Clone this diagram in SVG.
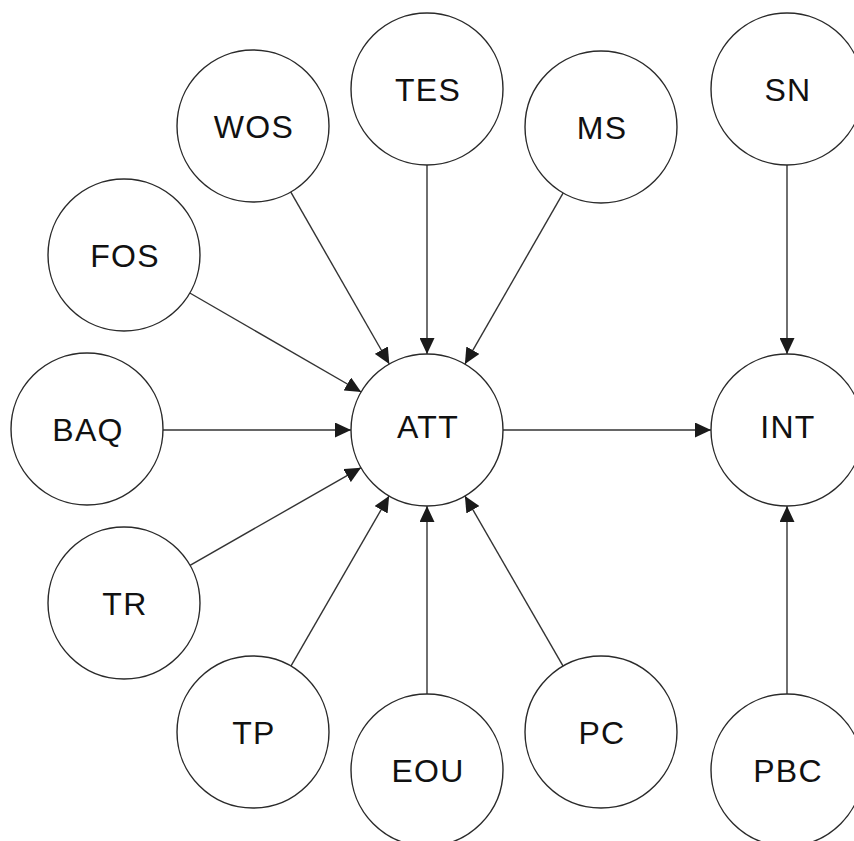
<svg xmlns="http://www.w3.org/2000/svg" width="854" height="841" viewBox="0 0 854 841">
  <defs>
    <marker id="arrow" markerUnits="userSpaceOnUse" markerWidth="16" markerHeight="15" refX="16" refY="7.5" orient="auto">
      <path d="M0,0 L16,7.5 L0,15 z" fill="#1a1a1a"/>
    </marker>
    <style>
      .node circle { fill: #ffffff; stroke: #2a2a2a; stroke-width: 1.4; }
      .node text { font-family: "Liberation Sans", Arial, sans-serif; font-size: 32px; letter-spacing: 1.3px; fill: #111111; text-anchor: middle; }
      .edges line { stroke: #333333; stroke-width: 1.4; marker-end: url(#arrow); }
    </style>
  </defs>
  <rect width="854" height="841" fill="#ffffff"/>

  <g class="edges">
    <line x1="427" y1="165" x2="427" y2="354"/>
    <line x1="290.7" y1="191.9" x2="389.3" y2="364"/>
    <line x1="563.2" y1="192.9" x2="464.9" y2="364.1"/>
    <line x1="189.8" y1="293" x2="361.2" y2="392"/>
    <line x1="163" y1="430" x2="351" y2="430"/>
    <line x1="190" y1="565.3" x2="361" y2="467.7"/>
    <line x1="290.9" y1="666.1" x2="389.1" y2="495.9"/>
    <line x1="427" y1="694" x2="427" y2="506"/>
    <line x1="563.1" y1="666.1" x2="464.9" y2="495.9"/>
    <line x1="503" y1="430" x2="711" y2="430"/>
    <line x1="787" y1="165" x2="787" y2="354"/>
    <line x1="787" y1="694" x2="787" y2="506"/>
  </g>

  <g id="TES" class="node"><circle cx="427" cy="89" r="76"/><text x="428" y="101">TES</text></g>
  <g id="WOS" class="node"><circle cx="253" cy="126" r="76"/><text x="254" y="138">WOS</text></g>
  <g id="MS" class="node"><circle cx="601" cy="127" r="76"/><text x="602" y="139">MS</text></g>
  <g id="SN" class="node"><circle cx="787" cy="89" r="76"/><text x="788" y="101">SN</text></g>
  <g id="FOS" class="node"><circle cx="124" cy="255" r="76"/><text x="125" y="267">FOS</text></g>
  <g id="BAQ" class="node"><circle cx="87" cy="429" r="76"/><text x="88" y="441">BAQ</text></g>
  <g id="ATT" class="node"><circle cx="427" cy="430" r="76"/><text x="428" y="438">ATT</text></g>
  <g id="INT" class="node"><circle cx="787" cy="430" r="76"/><text x="788" y="438">INT</text></g>
  <g id="TR" class="node"><circle cx="124" cy="603" r="76"/><text x="125" y="615">TR</text></g>
  <g id="TP" class="node"><circle cx="253" cy="732" r="76"/><text x="254" y="744">TP</text></g>
  <g id="EOU" class="node"><circle cx="427" cy="770" r="76"/><text x="428" y="782">EOU</text></g>
  <g id="PC" class="node"><circle cx="601" cy="732" r="76"/><text x="602" y="744">PC</text></g>
  <g id="PBC" class="node"><circle cx="787" cy="770" r="76"/><text x="788" y="782">PBC</text></g>
</svg>
